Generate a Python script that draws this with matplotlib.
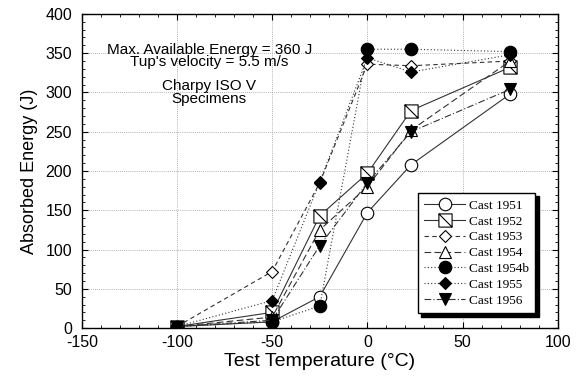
import matplotlib
matplotlib.use("Agg")
import matplotlib.pyplot as plt
from matplotlib.path import Path
from matplotlib.ticker import MultipleLocator

plt.rcParams['font.family'] = ['Liberation Sans', 'DejaVu Sans']
plt.rcParams['axes.unicode_minus'] = False

# test temperatures (C)
temps = [-100, -50, -25, 0, 23, 75]

# absorbed energy (J) per cast
cast_1951 = [2, 8, 40, 147, 208, 298]
cast_1952 = [2, 20, 143, 197, 277, 332]
cast_1953 = [2, 72, 185, 336, 334, 340]
cast_1954 = [2, 14, 125, 180, 252, 340]
cast_1954b = [2, 8, 28, 355, 355, 352]
cast_1955 = [2, 35, 186, 344, 326, 348]
cast_1956 = [2, 10, 105, 185, 250, 304]

labels = ["Cast 1951", "Cast 1952", "Cast 1953", "Cast 1954",
          "Cast 1954b", "Cast 1955", "Cast 1956"]

note_top = "Max. Available Energy = 360 J\nTup's velocity = 5.5 m/s"
note_bottom = "Charpy ISO V\nSpecimens"

# square with a diagonal for cast 1952
sq_diag = Path([(-1, -1), (1, -1), (1, 1), (-1, 1), (-1, -1), (-1, 1), (1, -1)],
               [Path.MOVETO, Path.LINETO, Path.LINETO, Path.LINETO, Path.CLOSEPOLY,
                Path.MOVETO, Path.LINETO])

series = [cast_1951, cast_1952, cast_1953, cast_1954, cast_1954b, cast_1955, cast_1956]
markers = ['o', sq_diag, 'D', '^', 'o', 'D', 'v']
faces = ['white', 'white', 'white', 'white', 'black', 'black', 'black']
styles = ['-', '-', (0, (4, 3)), (0, (6, 3)), (0, (1, 2)), (0, (1, 2)), (0, (6, 2, 1, 2))]
sizes = [9, 9.5, 6.5, 8, 9, 6.5, 8]

fig = plt.figure(figsize=(5.84, 3.86), dpi=100)
ax = fig.add_axes([0.140, 0.150, 0.815, 0.814])

for y, m, fc, ls, ms, lab in zip(series, markers, faces, styles, sizes, labels):
    ax.plot(temps, y, linestyle=ls, color='#333333', linewidth=0.8,
            marker=m, markersize=ms, markerfacecolor=fc, markeredgecolor='black',
            markeredgewidth=0.8, label=lab)

ax.set_xlim(-150, 100)
ax.set_ylim(0, 400)
ax.xaxis.set_major_locator(MultipleLocator(50))
ax.yaxis.set_major_locator(MultipleLocator(50))
ax.xaxis.set_minor_locator(MultipleLocator(10))
ax.yaxis.set_minor_locator(MultipleLocator(10))
ax.tick_params(which='both', direction='in', top=True, right=True, labelsize=11.5)
ax.tick_params(which='major', length=4)
ax.tick_params(which='minor', length=2)
ax.tick_params(axis='y', pad=7)
ax.tick_params(axis='x', pad=5)
ax.grid(True, which='major', linestyle=(0, (1, 1.5)), color='#999999', linewidth=0.6)
for s in ax.spines.values():
    s.set_linewidth(1.0)

ax.set_xlabel("Test Temperature (°C)", fontsize=14, labelpad=2)
ax.set_ylabel("Absorbed Energy (J)", fontsize=13, labelpad=5)

ax.text(-83, 346, note_top, ha='center', va='center', fontsize=11, linespacing=0.85)
ax.text(-83, 300, note_bottom, ha='center', va='center', fontsize=11, linespacing=0.85)

leg = ax.legend(loc='upper left', bbox_to_anchor=(0.706, 0.43), borderaxespad=0,
                fancybox=False, framealpha=1, edgecolor='black',
                prop={'family': 'Liberation Serif', 'size': 9.5},
                labelspacing=0.27, handlelength=3.1, handletextpad=0.25, borderpad=0.5,
                shadow={'color': 'black', 'alpha': 1, 'ox': 2.5, 'oy': -2.5})
leg.get_frame().set_linewidth(1.0)

fig.savefig("out.png", dpi=100)
